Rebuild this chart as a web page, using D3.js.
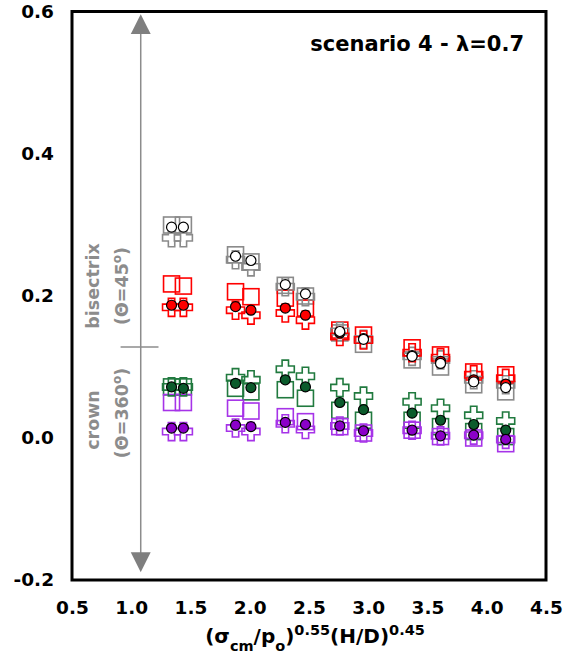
<!DOCTYPE html>
<html lang="en">
<head>
    <meta charset="UTF-8">
    <title>scenario 4</title>
    <script src="https://d3js.org/d3.v7.min.js"></script>
    <style>
        body { margin: 0; background: #fff; }
        text { font-family: "DejaVu Sans", Verdana, sans-serif; font-weight: bold; }
        .tick text { font-size: 18.5px; fill: #000; }
        .note { fill: #8c8c8c; font-size: 17.5px; }
    </style>
</head>
<body>
    <div id="chart"></div>

    <script>
        // data
        const xVals = [1.34, 1.44, 1.88, 2.01, 2.30, 2.47, 2.76, 2.96, 3.37, 3.61, 3.89, 4.16];

        const graySquare = [0.300, 0.300, 0.258, 0.248, 0.215, 0.200, 0.148, 0.132, 0.110, 0.100, 0.075, 0.065];
        const grayCross  = [0.282, 0.282, 0.251, 0.241, 0.213, 0.199, 0.150, 0.139, 0.115, 0.110, 0.082, 0.075];
        const grayCircle = [0.297, 0.297, 0.256, 0.250, 0.216, 0.203, 0.150, 0.139, 0.115, 0.105, 0.079, 0.071];

        const redSquare = [0.217, 0.214, 0.206, 0.199, 0.197, 0.183, 0.152, 0.145, 0.127, 0.117, 0.093, 0.089];
        const redCross  = [0.184, 0.184, 0.180, 0.173, 0.176, 0.166, 0.143, 0.138, 0.120, 0.113, 0.089, 0.084];
        const redCircle = [0.187, 0.187, 0.185, 0.180, 0.183, 0.173, 0.148, 0.140, 0.116, 0.108, 0.082, 0.076];

        const greenSquare = [0.072, 0.072, 0.070, 0.065, 0.068, 0.056, 0.039, 0.025, 0.025, 0.016, 0.009, 0.002];
        const greenCross  = [0.072, 0.072, 0.085, 0.082, 0.097, 0.087, 0.071, 0.059, 0.051, 0.042, 0.032, 0.024];
        const greenCircle = [0.072, 0.070, 0.077, 0.071, 0.082, 0.072, 0.050, 0.040, 0.035, 0.025, 0.019, 0.011];

        const purpleSquare = [0.050, 0.050, 0.042, 0.038, 0.030, 0.023, 0.016, 0.007, 0.011, 0.002, 0.000, -0.008];
        const purpleCross  = [0.009, 0.009, 0.014, 0.009, 0.020, 0.012, 0.017, 0.007, 0.011, 0.003, 0.004, -0.002];
        const purpleCircle = [0.014, 0.014, 0.018, 0.016, 0.022, 0.019, 0.017, 0.010, 0.011, 0.003, 0.004, -0.002];

        const xTicks = [0.5, 1.0, 1.5, 2.0, 2.5, 3.0, 3.5, 4.0, 4.5];
        const yTicks = [-0.2, 0.0, 0.2, 0.4, 0.6];

        const W = 572, H = 658;
        const margin = { top: 12, right: 26, bottom: 78, left: 72 };
        const width = W - margin.left - margin.right,
              height = H - margin.top - margin.bottom;

        const svg = d3.select("#chart")
          .append("svg")
            .attr("width", W)
            .attr("height", H)
          .append("g")
            .attr("transform", `translate(${margin.left},${margin.top})`);

        const x = d3.scaleLinear().domain([0.5, 4.5]).range([0, width]);
        const y = d3.scaleLinear().domain([-0.2, 0.6]).range([height, 0]);

        // axes (labels only)
        const xAxis = svg.append("g")
            .attr("transform", `translate(0,${height})`)
            .call(d3.axisBottom(x).tickValues(xTicks).tickSize(0).tickPadding(21).tickFormat(d => d.toFixed(1)));
        xAxis.select(".domain").remove();

        const yAxis = svg.append("g")
            .call(d3.axisLeft(y).tickValues(yTicks).tickSize(0).tickPadding(18).tickFormat(d => d.toFixed(1)));
        yAxis.select(".domain").remove();

        // grey arrow + annotations
        const gray = "#8c8c8c";
        const ax = 1.08, hw = 0.084;
        svg.append("line")
            .attr("x1", x(ax)).attr("x2", x(ax))
            .attr("y1", y(0.575)).attr("y2", y(-0.165))
            .style("stroke", gray).style("stroke-width", 1.5);
        svg.append("path")
            .attr("d", `M${x(ax)},${y(0.597)} L${x(ax - hw)},${y(0.569)} L${x(ax + hw)},${y(0.569)} Z`)
            .style("fill", "#7f7f7f");
        svg.append("path")
            .attr("d", `M${x(ax)},${y(-0.189)} L${x(ax - hw)},${y(-0.161)} L${x(ax + hw)},${y(-0.161)} Z`)
            .style("fill", "#7f7f7f");
        svg.append("line")
            .attr("x1", x(0.91)).attr("x2", x(1.23))
            .attr("y1", y(0.128)).attr("y2", y(0.128))
            .style("stroke", gray).style("stroke-width", 1.5);

        function vtext(cx, cy, parts) {
            const t = svg.append("text")
                .attr("class", "note")
                .attr("text-anchor", "middle")
                .attr("transform", `translate(${cx},${cy}) rotate(-90)`);
            parts.forEach(p => {
                const s = t.append("tspan").text(p[0]);
                if (p[1]) s.attr("baseline-shift", "super").style("font-size", "12px");
            });
        }
        vtext(93 - margin.left + 6, 286 - margin.top, [["bisectrix"]]);
        vtext(122 - margin.left + 6, 286 - margin.top, [["(Θ=45"], ["o", 1], [")"]]);
        vtext(93 - margin.left + 6, 420 - margin.top, [["crown"]]);
        vtext(122 - margin.left + 6, 413 - margin.top, [["(Θ=360"], ["o", 1], [")"]]);

        // markers
        const sq = 16;
        const cs = 9, ca = 3.2;
        const crossPath = `M${-ca},${-cs} H${ca} V${-ca} H${cs} V${ca} H${ca} V${cs} H${-ca} V${ca} H${-cs} V${-ca} H${-ca} Z`;

        function squares(vals, color) {
            svg.selectAll(null)
                .data(vals)
                .enter()
                .append("rect")
                .attr("x", (d, i) => x(xVals[i]) - sq / 2)
                .attr("y", d => y(d) - sq / 2)
                .attr("width", sq)
                .attr("height", sq)
                .style("fill", "none")
                .style("stroke", color)
                .style("stroke-width", 1.6);
        }
        function crosses(vals, color) {
            svg.selectAll(null)
                .data(vals)
                .enter()
                .append("path")
                .attr("d", crossPath)
                .attr("transform", (d, i) => `translate(${x(xVals[i])},${y(d)})`)
                .style("fill", "none")
                .style("stroke", color)
                .style("stroke-width", 1.6);
        }
        function circles(vals, color) {
            svg.selectAll(null)
                .data(vals)
                .enter()
                .append("circle")
                .attr("cx", (d, i) => x(xVals[i]))
                .attr("cy", d => y(d))
                .attr("r", 5)
                .style("fill", color)
                .style("stroke", "#000")
                .style("stroke-width", 1.2);
        }

        const cGray = "#8a8a8a", cRed = "#ff0000", cGreen = "#217a3f", cPurple = "#a633e8";

        squares(graySquare, cGray);
        squares(redSquare, cRed);
        squares(greenSquare, cGreen);
        squares(purpleSquare, cPurple);
        crosses(grayCross, cGray);
        crosses(redCross, cRed);
        crosses(greenCross, cGreen);
        crosses(purpleCross, cPurple);
        circles(redCircle, "#ff0000");
        circles(grayCircle, "#ffffff");
        circles(greenCircle, "#0b5b2c");
        circles(purpleCircle, "#8b00c9");

        // frame
        svg.append("rect")
            .attr("x", 0).attr("y", -0.5)
            .attr("width", width).attr("height", height + 0.5)
            .style("fill", "none")
            .style("stroke", "#000")
            .style("stroke-width", 3);

        // titles
        svg.append("text")
            .attr("x", width - 22)
            .attr("y", 51 - margin.top)
            .attr("text-anchor", "end")
            .style("font-size", "21px")
            .text("scenario 4 - λ=0.7");

        const xt = svg.append("text")
            .attr("x", width / 2 + 6)
            .attr("y", height + 63)
            .attr("text-anchor", "middle")
            .style("font-size", "20px");
        xt.append("tspan").text("(σ");
        xt.append("tspan").attr("baseline-shift", "sub").style("font-size", "14.5px").text("cm");
        xt.append("tspan").text("/p");
        xt.append("tspan").attr("baseline-shift", "sub").style("font-size", "14.5px").text("o");
        xt.append("tspan").text(")");
        xt.append("tspan").attr("baseline-shift", "super").style("font-size", "14.5px").text("0.55");
        xt.append("tspan").text("(H/D)");
        xt.append("tspan").attr("baseline-shift", "super").style("font-size", "14.5px").text("0.45");
    </script>
</body>
</html>
